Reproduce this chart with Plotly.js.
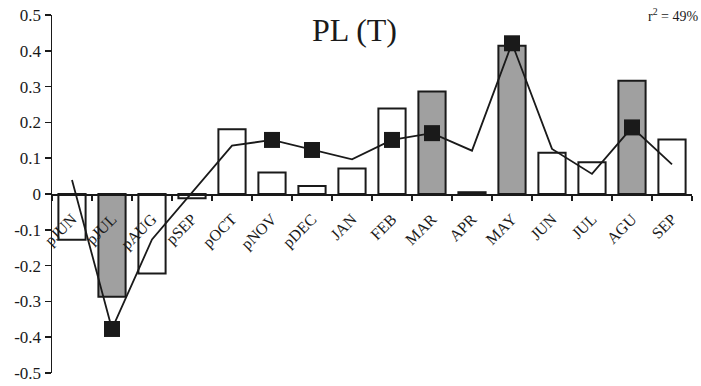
<!DOCTYPE html>
<html><head><meta charset="utf-8">
<script src="https://cdn.plot.ly/plotly-3.0.1.min.js"></script>
<style>body{margin:0;background:#fff}#c{width:701px;height:386px}</style>
</head><body><div id="c"></div>
<script>
const categories = ["pJUN","pJUL","pAUG","pSEP","pOCT","pNOV","pDEC","JAN","FEB","MAR","APR","MAY","JUN","JUL","AGU","SEP"];
const barValues = [-0.128,-0.287,-0.222,-0.012,0.181,0.060,0.022,0.071,0.239,0.286,0.005,0.414,0.115,0.089,0.316,0.152];
const significant = [false,true,false,false,false,false,false,false,false,true,false,true,false,false,true,false];
const lineValues = [0.039,-0.377,-0.127,0.005,0.135,0.151,0.123,0.097,0.151,0.170,0.121,0.421,0.126,0.056,0.186,0.083];
const marked = [false,true,false,false,false,true,true,false,true,true,false,true,false,false,true,false];
const yTickVals = [-0.5,-0.4,-0.3,-0.2,-0.1,0,0.1,0.2,0.3,0.4,0.5];
const yTickText = ["-0.5","-0.4","-0.3","-0.2","-0.1","0","0.1","0.2","0.3","0.4","0.5"];

const font = "Liberation Serif, Times New Roman, serif";
const bars = {
  type: "bar", x: categories, y: barValues,
  marker: {color: significant.map(s => s ? "#a0a0a0" : "#ffffff"), line: {color: "#1a1a1a", width: 2}},
  hoverinfo: "none"
};
const line = {
  type: "scatter", mode: "lines+markers", x: categories, y: lineValues,
  line: {color: "#1a1a1a", width: 1.8},
  marker: {symbol: "square", color: "#1a1a1a", opacity: 1, size: marked.map(m => m ? 16 : 0), line: {width: 0}},
  hoverinfo: "none"
};
const layout = {
  width: 701, height: 386,
  margin: {l: 51.7, r: 9.3, t: 15, b: 13},
  paper_bgcolor: "#fff", plot_bgcolor: "#fff",
  showlegend: false, bargap: 0.32,
  font: {family: font, color: "#1a1a1a"},
  xaxis: {
    type: "category", range: [-0.5, 15.5], anchor: "free", position: 0.5,
    showline: true, linecolor: "#1a1a1a", linewidth: 1.5,
    ticks: "outside", tickson: "boundaries", ticklen: 5, tickcolor: "#1a1a1a", tickwidth: 1.5,
    ticklabelstandoff: 8,
    tickangle: -45, tickfont: {family: font, size: 16, color: "#1a1a1a"},
    showgrid: false, zeroline: false, fixedrange: true
  },
  yaxis: {
    range: [-0.5, 0.5], tickvals: yTickVals, ticktext: yTickText,
    showline: true, linecolor: "#1a1a1a", linewidth: 1.5,
    ticks: "outside", ticklen: 6, tickcolor: "#1a1a1a", tickwidth: 1.5,
    tickfont: {family: font, size: 17, color: "#1a1a1a"},
    showgrid: false, zeroline: false, fixedrange: true
  },
  annotations: [
    {text: "PL (T)", xref: "paper", yref: "paper", x: 0.472, y: 0.958, xanchor: "center", yanchor: "middle",
     showarrow: false, font: {family: font, size: 32, color: "#1a1a1a"}},
    {text: "r<sup>2</sup> = 49%", xref: "paper", yref: "paper", x: 1.013, y: 1.0, xanchor: "right", yanchor: "middle",
     showarrow: false, font: {family: font, size: 14, color: "#1a1a1a"}}
  ]
};
Plotly.newPlot("c", [bars, line], layout, {staticPlot: true});
</script></body></html>
